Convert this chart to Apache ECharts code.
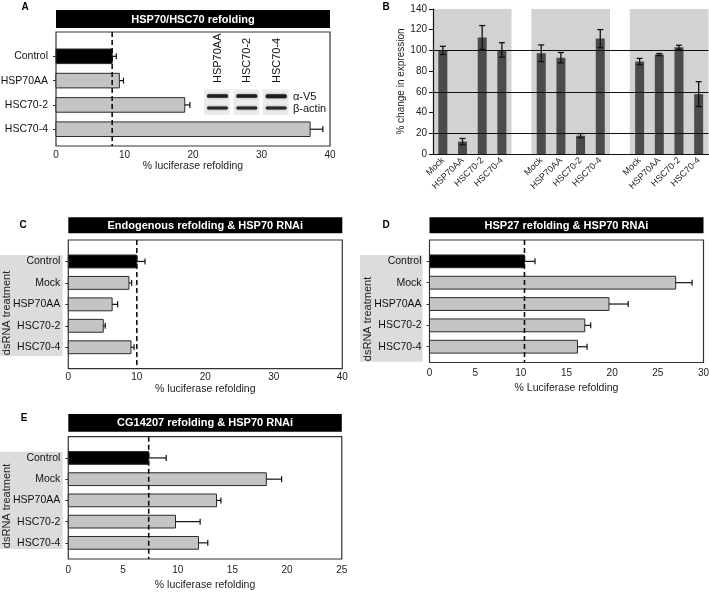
<!DOCTYPE html>
<html>
<head>
<meta charset="utf-8">
<script src="https://cdn.jsdelivr.net/npm/echarts@6/dist/echarts.min.js"></script>
<style>
  html, body { margin: 0; padding: 0; background: #fff; }
  #chart { width: 709px; height: 592px; }
</style>
</head>
<body>
<div id="chart"></div>
<script>
// panel A: HSP70/HSC70 refolding
const aCats = ["Control", "HSP70AA", "HSC70-2", "HSC70-4"];
const aValues = [8.2, 9.25, 18.8, 37.1];
const aErrors = [0.6, 0.6, 0.75, 1.85];

// panel B: % change in expression, three V5 groups
const bGroups = ["V5-HSP70AA", "V5-HSC70-2", "V5-HSC70-4"];
const bCats = ["Mock", "HSP70AA", "HSC70-2", "HSC70-4"];
const bValues = [
  [100, 12, 112.5, 100.5],
  [97.3, 93, 17.7, 111.4],
  [89.3, 96, 103, 57.8],
];
const bErrors = [
  [4, 3, 11.5, 7],
  [8, 5, 2, 8.7],
  [3, 1, 2, 12],
];
const bRefLines = [20, 60, 100];

// panels C, D, E: RNAi
const rnaiCats = ["Control", "Mock", "HSP70AA", "HSC70-2", "HSC70-4"];
const cValues = [10.0, 8.85, 6.4, 5.1, 9.15];
const cErrors = [1.2, 0.4, 0.8, 0.3, 0.45];
const dValues = [10.4, 26.95, 19.65, 17.0, 16.2];
const dErrors = [1.15, 1.8, 2.1, 0.65, 1.05];
const eValues = [7.35, 18.1, 13.55, 9.8, 11.9];
const eErrors = [1.6, 1.4, 0.4, 2.25, 0.85];

const FONT = "Liberation Sans, Arial, sans-serif";

const chart = echarts.init(document.getElementById("chart"));

const grid = [];
const xAxis = [];
const yAxis = [];
const series = [];
const graphic = [];

function hBarItem(params, api) {
  const v = api.value(0);
  const pos = api.value(1);
  const err = api.value(2);
  const ctrl = api.value(3);
  const start = api.coord([0, pos]);
  const end = api.coord([v, pos]);
  const tip = api.coord([v + err, pos]);
  const h = api.size([0, 0.6])[1];
  const cap = 6;
  const line = { stroke: "#111", lineWidth: 1.2 };
  return {
    type: "group",
    children: [
      {
        type: "rect",
        shape: { x: start[0], y: start[1] - h / 2, width: end[0] - start[0], height: h },
        style: { fill: ctrl ? "#000" : "#c4c4c4", stroke: "#2a2a2a", lineWidth: 1 },
      },
      { type: "line", shape: { x1: end[0], y1: end[1], x2: tip[0], y2: tip[1] }, style: line },
      { type: "line", shape: { x1: tip[0], y1: tip[1] - cap / 2, x2: tip[0], y2: tip[1] + cap / 2 }, style: line },
    ],
  };
}

function hPanel(p) {
  const gi = grid.length;
  grid.push({ left: p.left, top: p.top, width: p.width, height: p.height, show: true,
    outerBoundsMode: "none", borderColor: "#333", borderWidth: 1.2, backgroundColor: "transparent" });
  const ticks = p.cats.map((c, i) => i + 1);
  xAxis.push({
    gridIndex: gi, type: "value", min: 0, max: p.xMax, interval: p.interval,
    axisLine: { show: false }, axisTick: { show: false }, splitLine: { show: false },
    axisLabel: { fontFamily: FONT, fontSize: 10, color: "#222", margin: p.labelMargin },
    name: p.name, nameLocation: "middle", nameGap: p.nameGap,
    nameTextStyle: { fontFamily: FONT, fontSize: 10.5, color: "#222" },
  });
  yAxis.push({
    gridIndex: gi, type: "value", inverse: true, min: 0, max: p.yMax, z: 4,
    axisLine: { show: false }, splitLine: { show: false },
    axisTick: { show: true, customValues: ticks, length: 3, lineStyle: { color: "#333" } },
    axisLabel: {
      customValues: ticks, margin: 8, fontFamily: FONT, fontSize: 10.5, color: "#111",
      formatter: (v) => p.cats[Math.round(v) - 1] || "",
    },
  });
  series.push({
    type: "custom", xAxisIndex: gi, yAxisIndex: gi, z: 2,
    renderItem: hBarItem,
    encode: { x: 0, y: 1 },
    data: p.values.map((v, i) => [v, i + 1, p.errors[i], i === 0 ? 1 : 0]),
  });
  series.push({
    type: "line", xAxisIndex: gi, yAxisIndex: gi, z: 5, symbol: "none",
    lineStyle: { color: "#111", width: 1.6, type: [5, 3] },
    data: [[p.values[0], 0], [p.values[0], p.yMax]],
  });
  // black title bar
  graphic.push({
    type: "group", left: p.left, top: p.barTop,
    children: [
      { type: "rect", shape: { x: 0, y: 0, width: p.width, height: p.barH }, style: { fill: "#000" } },
      { type: "text", x: p.width / 2, y: p.barH / 2 + 0.5,
        style: { text: p.title, fill: "#fff", font: "bold 11px " + FONT, align: "center", verticalAlign: "middle" } },
    ],
  });
  graphic.push({ type: "text", x: p.letter[0], y: p.letter[1],
    style: { text: p.letter[2], fill: "#000", font: "bold 10px " + FONT, align: "center", verticalAlign: "middle" } });
  if (p.box) {
    graphic.push({ type: "rect", z: 0, shape: { x: p.box[0], y: p.box[1], width: p.box[2], height: p.box[3] },
      style: { fill: "#dcdcdc" } });
    graphic.push({ type: "text", z: 1, x: p.boxText[0], y: p.boxText[1], rotation: Math.PI / 2,
      style: { text: "dsRNA treatment", fill: "#222", font: "11px " + FONT, align: "center", verticalAlign: "middle" } });
  }
}

hPanel({ left: 56, top: 32, width: 274, height: 114, cats: aCats, values: aValues, errors: aErrors,
  xMax: 40, interval: 10, yMax: 4.69, name: "% luciferase refolding", nameGap: 15, labelMargin: 4,
  title: "HSP70/HSC70 refolding", barTop: 10, barH: 18, letter: [25, 7, "A"] });
hPanel({ left: 68.3, top: 240, width: 274, height: 128.7, cats: rnaiCats, values: cValues, errors: cErrors,
  xMax: 40, interval: 10, yMax: 6, name: "% luciferase refolding", nameGap: 15, labelMargin: 4,
  title: "Endogenous refolding & HSP70 RNAi", barTop: 217.3, barH: 16, letter: [23, 225.5, "C"],
  box: [0, 255, 62.7, 101], boxText: [7, 313] });
hPanel({ left: 429.5, top: 240, width: 274, height: 122.5, cats: rnaiCats, values: dValues, errors: dErrors,
  xMax: 30, interval: 5, yMax: 5.74, name: "% Luciferase refolding", nameGap: 20, labelMargin: 6,
  title: "HSP27 refolding & HSP70 RNAi", barTop: 217.3, barH: 16, letter: [386, 225.5, "D"],
  box: [360, 255, 62.7, 106.7], boxText: [368.3, 319] });
hPanel({ left: 68.3, top: 436.7, width: 273.5, height: 122.3, cats: rnaiCats, values: eValues, errors: eErrors,
  xMax: 25, interval: 5, yMax: 5.76, name: "% luciferase refolding", nameGap: 20.5, labelMargin: 6,
  title: "CG14207 refolding & HSP70 RNAi", barTop: 414, barH: 17.7, letter: [24, 418, "E"],
  box: [0, 451.7, 62.7, 97.3], boxText: [7, 506] });

// western blot inset in panel A
const lanes = [204, 233.3, 262.7];
lanes.forEach((x, i) => {
  graphic.push({ type: "rect", shape: { x: x, y: 89.3, width: 26, height: 25.7 }, style: { fill: "#ececec" } });
  graphic.push({ type: "rect", shape: { x: x + 3, y: 94.3, width: 21, height: i === 2 ? 4 : 3.4, r: 1.5 },
    style: { fill: "#1e1e1e", shadowBlur: 2, shadowColor: "rgba(0,0,0,0.5)" } });
  graphic.push({ type: "rect", shape: { x: x + 3, y: 106.5, width: 21, height: 3, r: 1.5 },
    style: { fill: "#262626", shadowBlur: 2, shadowColor: "rgba(0,0,0,0.5)" } });
  graphic.push({ type: "text", x: x + 14, y: 83, rotation: Math.PI / 2,
    style: { text: aCats[i + 1], fill: "#111", font: "11px " + FONT, align: "left", verticalAlign: "middle" } });
});
graphic.push({ type: "text", x: 293, y: 96.5,
  style: { text: "α-V5", fill: "#111", font: "11px " + FONT, verticalAlign: "middle" } });
graphic.push({ type: "text", x: 293, y: 108.5,
  style: { text: "β-actin", fill: "#111", font: "11px " + FONT, verticalAlign: "middle" } });

// panel B: vertical bars on a category axis with gaps between groups
const bAxisCats = [];
const bBarData = [];
const bErrData = [];
bGroups.forEach((g, gi) => {
  bCats.forEach((c, ci) => {
    bErrData.push([bAxisCats.length, bValues[gi][ci], bErrors[gi][ci]]);
    bAxisCats.push(c);
    bBarData.push(bValues[gi][ci]);
  });
  if (gi < bGroups.length - 1) {
    bAxisCats.push("");
    bBarData.push("-");
  }
});

const bg = grid.length;
grid.push({ left: 433, top: 9, width: 275.5, height: 145, outerBoundsMode: "none" });
xAxis.push({
  gridIndex: bg, type: "category", data: bAxisCats,
  axisLine: { lineStyle: { color: "#111", width: 1.2 } },
  axisTick: { length: 4, interval: 0, lineStyle: { color: "#111" } },
  axisLabel: { interval: 0, rotate: 45, fontFamily: FONT, fontSize: 9, color: "#222", margin: 5 },
  splitArea: { show: true, interval: 0,
    areaStyle: { color: ["#d2d2d2", "#d2d2d2", "#d2d2d2", "#d2d2d2", "#ffffff"] } },
});
yAxis.push({
  gridIndex: bg, type: "value", min: 0, max: 140, interval: 20,
  axisLine: { show: true, lineStyle: { color: "#111", width: 1.2 } },
  axisTick: { show: true, length: 4, lineStyle: { color: "#111" } },
  splitLine: { show: false },
  axisLabel: { fontFamily: FONT, fontSize: 10, color: "#222", margin: 6 },
  name: "% change in expression", nameLocation: "middle", nameGap: 24,
  nameTextStyle: { fontFamily: FONT, fontSize: 10, color: "#222" },
});
series.push({
  type: "bar", xAxisIndex: bg, yAxisIndex: bg, data: bBarData, barWidth: 9,
  itemStyle: { color: "#4b4b4b" },
  markLine: {
    silent: true, symbol: "none", label: { show: false },
    lineStyle: { color: "#111", width: 1.2, type: "solid" },
    data: bRefLines.map((v) => ({ yAxis: v })),
  },
});
series.push({
  type: "custom", xAxisIndex: bg, yAxisIndex: bg, z: 4,
  encode: { x: 0, y: 1 },
  data: bErrData,
  renderItem: (params, api) => {
    const x = api.value(0), v = api.value(1), e = api.value(2);
    const top = api.coord([x, v + e]);
    const bot = api.coord([x, v - e]);
    const line = { stroke: "#111", lineWidth: 1.3 };
    return {
      type: "group",
      children: [
        { type: "line", shape: { x1: top[0], y1: top[1], x2: bot[0], y2: bot[1] }, style: line },
        { type: "line", shape: { x1: top[0] - 3, y1: top[1], x2: top[0] + 3, y2: top[1] }, style: line },
        { type: "line", shape: { x1: bot[0] - 3, y1: bot[1], x2: bot[0] + 3, y2: bot[1] }, style: line },
      ],
    };
  },
});
[472.7, 571, 669].forEach((x, i) => {
  graphic.push({ type: "text", x: x, y: 15,
    style: { text: bGroups[i], fill: "#111", font: "bold 11px " + FONT, align: "center", verticalAlign: "middle" } });
});
graphic.push({ type: "text", x: 386, y: 7,
  style: { text: "B", fill: "#000", font: "bold 10px " + FONT, align: "center", verticalAlign: "middle" } });

chart.setOption({
  animation: false,
  backgroundColor: "#fff",
  grid: grid,
  xAxis: xAxis,
  yAxis: yAxis,
  series: series,
  graphic: graphic,
});
</script>
</body>
</html>
